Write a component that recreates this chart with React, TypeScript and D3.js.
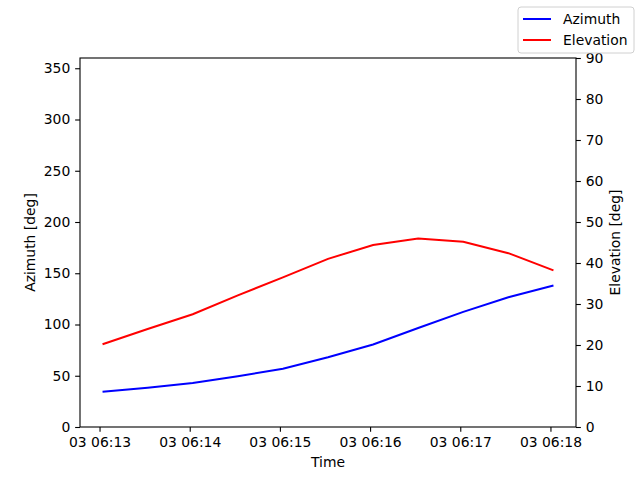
import { useEffect, useRef } from "react";
import * as d3 from "d3";

const WIDTH = 640;
const HEIGHT = 480;
const MARGIN = { top: 58, right: 64, bottom: 53, left: 80 };
const INNER_W = WIDTH - MARGIN.left - MARGIN.right;
const INNER_H = HEIGHT - MARGIN.top - MARGIN.bottom;

// sample times (UTC), every 30 s
const TIMES = [
  "2024-01-03T06:13:02Z",
  "2024-01-03T06:13:32Z",
  "2024-01-03T06:14:02Z",
  "2024-01-03T06:14:32Z",
  "2024-01-03T06:15:02Z",
  "2024-01-03T06:15:32Z",
  "2024-01-03T06:16:02Z",
  "2024-01-03T06:16:32Z",
  "2024-01-03T06:17:02Z",
  "2024-01-03T06:17:32Z",
  "2024-01-03T06:18:02Z",
];
const AZIMUTH = [34.4, 38.4, 42.9, 49.6, 56.8, 68.0, 80.5, 96.6, 112.3, 126.6, 138.0];
const ELEVATION = [20.2, 23.9, 27.5, 32.1, 36.5, 41.0, 44.4, 46.0, 45.2, 42.4, 38.2];

const AZ_TICKS = [0, 50, 100, 150, 200, 250, 300, 350];
const EL_TICKS = [0, 10, 20, 30, 40, 50, 60, 70, 80, 90];
const X_TICKS = [
  "2024-01-03T06:13:00Z",
  "2024-01-03T06:14:00Z",
  "2024-01-03T06:15:00Z",
  "2024-01-03T06:16:00Z",
  "2024-01-03T06:17:00Z",
  "2024-01-03T06:18:00Z",
];

const FONT = "DejaVu Sans, sans-serif";
const FS = 13.9;
const TICK = 4.86;

export default function App() {
  const svgRef = useRef<SVGSVGElement>(null);

  useEffect(() => {
    document.body.style.margin = "0";
    if (!svgRef.current) return;
    const svg = d3.select(svgRef.current);
    svg.selectAll("*").remove();

    const times = TIMES.map((t) => new Date(t));
    const t0 = times[0].getTime();
    const t1 = times[times.length - 1].getTime();
    const pad = (t1 - t0) * 0.05;

    const x = d3
      .scaleUtc()
      .domain([new Date(t0 - pad), new Date(t1 + pad)])
      .range([0, INNER_W]);
    const yL = d3.scaleLinear().domain([0, 360]).range([INNER_H, 0]);
    const yR = d3.scaleLinear().domain([0, 90]).range([INNER_H, 0]);

    const g = svg
      .append("g")
      .attr("transform", `translate(${MARGIN.left},${MARGIN.top})`);

    const styleAxis = (a: d3.Selection<SVGGElement, unknown, null, undefined>) => {
      a.select(".domain").remove();
      a.selectAll("line").attr("stroke", "black").attr("stroke-width", 1.1);
      a.selectAll("text")
        .style("font-family", FONT)
        .style("font-size", `${FS}px`)
        .attr("fill", "black");
    };

    g.append("g")
      .attr("transform", `translate(0,${INNER_H})`)
      .call(
        d3
          .axisBottom(x)
          .tickValues(X_TICKS.map((t) => new Date(t)))
          .tickFormat((d) => d3.utcFormat("%d %H:%M")(d as Date))
          .tickSize(TICK)
          .tickPadding(TICK)
      )
      .call(styleAxis);

    g.append("g")
      .call(d3.axisLeft(yL).tickValues(AZ_TICKS).tickSize(TICK).tickPadding(TICK))
      .call(styleAxis);

    g.append("g")
      .attr("transform", `translate(${INNER_W},0)`)
      .call(d3.axisRight(yR).tickValues(EL_TICKS).tickSize(TICK).tickPadding(TICK))
      .call(styleAxis);

    const azLine = d3
      .line<number>()
      .x((_, i) => x(times[i]))
      .y((d) => yL(d));
    const elLine = d3
      .line<number>()
      .x((_, i) => x(times[i]))
      .y((d) => yR(d));

    g.append("path")
      .datum(AZIMUTH)
      .attr("fill", "none")
      .attr("stroke", "blue")
      .attr("stroke-width", 2)
      .attr("d", azLine);

    g.append("path")
      .datum(ELEVATION)
      .attr("fill", "none")
      .attr("stroke", "red")
      .attr("stroke-width", 2)
      .attr("d", elLine);

    g.append("rect")
      .attr("width", INNER_W)
      .attr("height", INNER_H)
      .attr("fill", "none")
      .attr("stroke", "black")
      .attr("stroke-width", 1.1);

    const label = (txt: string, tx: number, ty: number, rot = 0) =>
      svg
        .append("text")
        .attr("transform", `translate(${tx},${ty}) rotate(${rot})`)
        .attr("text-anchor", "middle")
        .style("font-family", FONT)
        .style("font-size", `${FS}px`)
        .text(txt);

    label("Time", MARGIN.left + INNER_W / 2, 467);
    label("Azimuth [deg]", 35, MARGIN.top + INNER_H / 2, -90);
    label("Elevation [deg]", 620, MARGIN.top + INNER_H / 2, -90);

    // figure legend, upper right
    const lg = svg.append("g").attr("transform", "translate(518,7)");
    lg.append("rect")
      .attr("width", 116)
      .attr("height", 46)
      .attr("rx", 3)
      .attr("fill", "white")
      .attr("fill-opacity", 0.8)
      .attr("stroke", "#d0d0d0")
      .attr("stroke-width", 1);
    const items = [
      { name: "Azimuth", color: "blue" },
      { name: "Elevation", color: "red" },
    ];
    items.forEach((it, i) => {
      const cy = 12 + i * 21;
      lg.append("line")
        .attr("x1", 5)
        .attr("x2", 33)
        .attr("y1", cy)
        .attr("y2", cy)
        .attr("stroke", it.color)
        .attr("stroke-width", 2);
      lg.append("text")
        .attr("x", 45)
        .attr("y", cy + 5)
        .style("font-family", FONT)
        .style("font-size", `${FS}px`)
        .text(it.name);
    });
  }, []);

  return (
    <svg
      ref={svgRef}
      width={WIDTH}
      height={HEIGHT}
      style={{ display: "block", background: "white" }}
    />
  );
}
